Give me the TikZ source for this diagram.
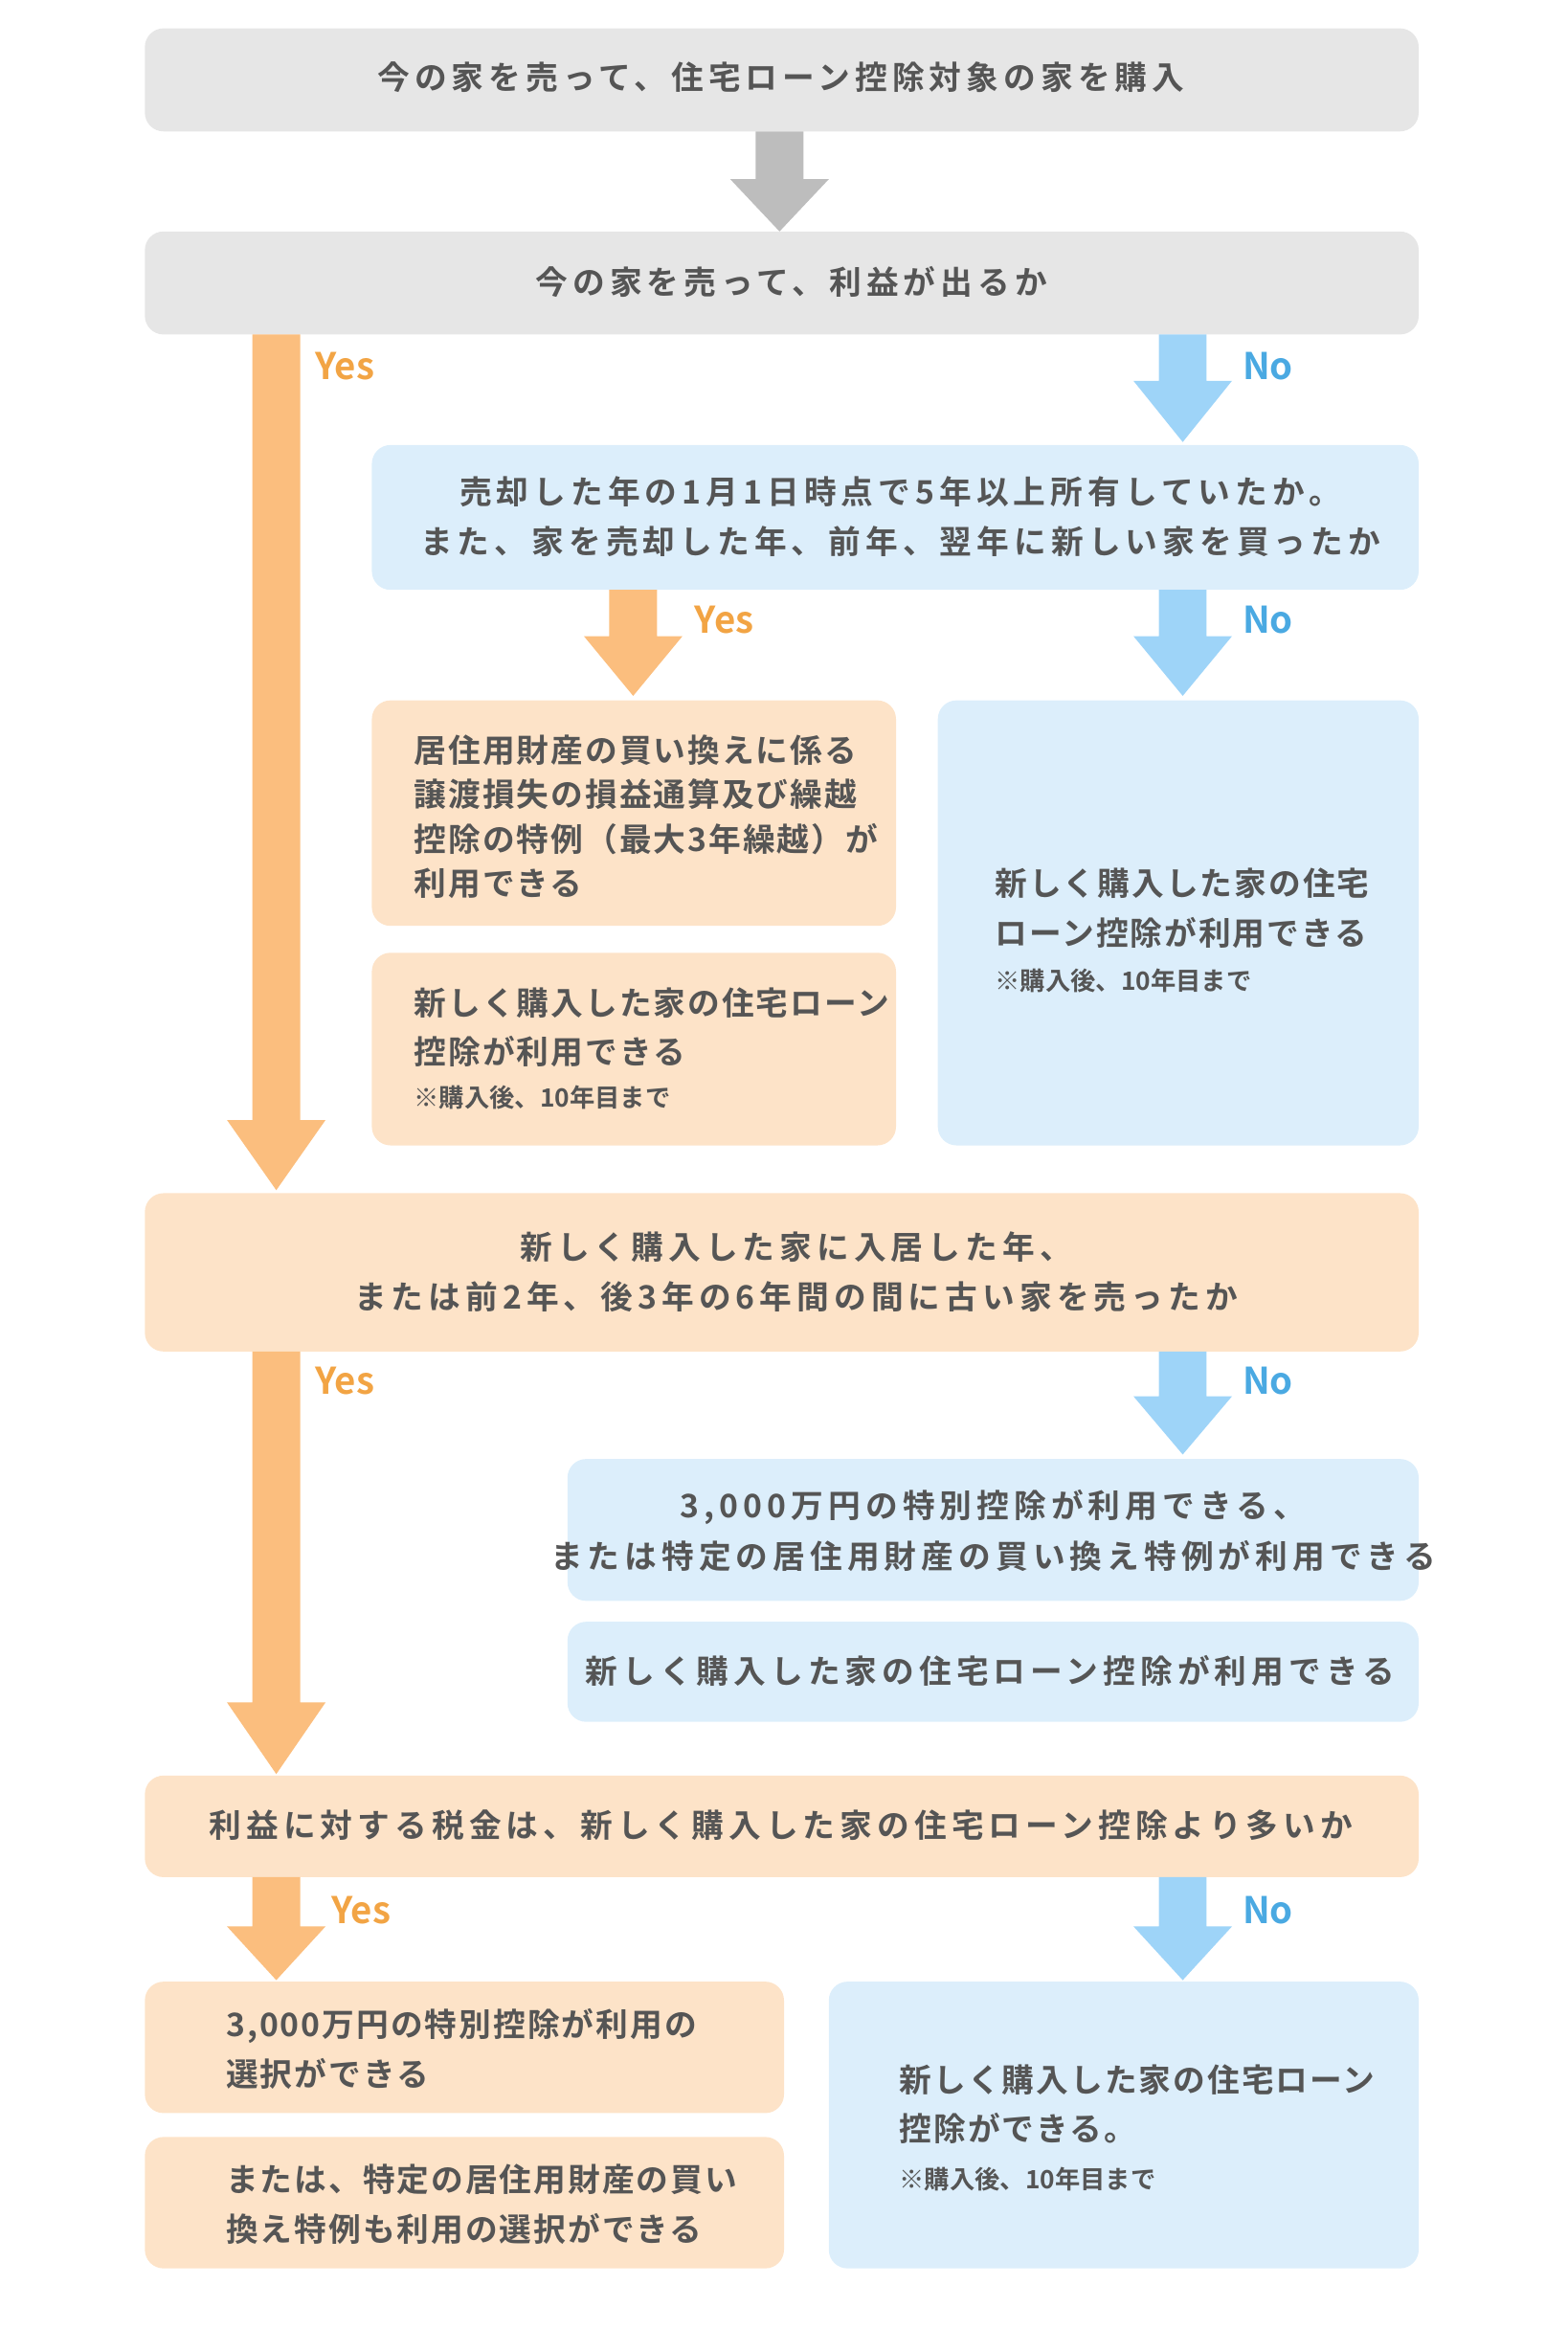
\documentclass[tikz,border=0pt]{standalone}
\usepackage{fontspec}
\setmainfont{Noto Sans CJK JP}[BoldFont={Noto Sans CJK JP Bold}]
\newfontfamily\jpwide{Noto Sans CJK JP}[BoldFont={Noto Sans CJK JP Bold},LetterSpace=15]
\newfontfamily\jpmid{Noto Sans CJK JP}[BoldFont={Noto Sans CJK JP Bold},LetterSpace=6]
\begin{document}
\begin{tikzpicture}[x=0.02cm,y=-0.02cm,
  box/.style={rounded corners=0.25cm},
  gbox/.style={box,fill=gbg},
  obox/.style={box,fill=obg},
  bbox/.style={box,fill=bbg},
  txt/.style={text=tx,font=\jpwide\fontsize{12.3}{19}\selectfont\bfseries,align=center,inner sep=0},
  ltxt/.style={text=tx,font=\jpmid\fontsize{12.3}{17}\selectfont\bfseries,align=left,anchor=west,inner sep=0},
  ltxtb/.style={ltxt,font=\jpmid\fontsize{12.3}{18.8}\selectfont\bfseries},
  note/.style={text=tx,font=\fontsize{9.6}{11}\selectfont\bfseries,anchor=west,inner sep=0},
  yes/.style={text=ytx,font=\fontsize{14}{16}\selectfont\bfseries,inner sep=0},
  no/.style={text=ntx,font=\fontsize{14}{16}\selectfont\bfseries,inner sep=0}]
\definecolor{gbg}{HTML}{E6E6E6}\definecolor{garr}{HTML}{BDBDBD}
\definecolor{obg}{HTML}{FDE3C8}\definecolor{oarr}{HTML}{FBBE7E}
\definecolor{bbg}{HTML}{DCEEFB}\definecolor{barr}{HTML}{9ED4F8}
\definecolor{tx}{HTML}{555555}\definecolor{ytx}{HTML}{F2A444}\definecolor{ntx}{HTML}{4AA9E2}
\newcommand\farrow[5]{\fill[#1] (#2-16,#3)--(#2+16,#3)--(#2+16,#5)--(#2+33,#5)--(#2,#4)--(#2-33,#5)--(#2-16,#5)--cycle;}
\useasboundingbox (0,0) rectangle (1050,1575);
\fill[gbox] (97,19) rectangle (950,88);
\node[txt] (t1) at (523,52) {今の家を売って、住宅ローン控除対象の家を購入};
\farrow{garr}{522}{88}{155}{120}
\fill[gbox] (97,155) rectangle (950,224);
\node[txt] (t2) at (530,189) {今の家を売って、利益が出るか};
\farrow{oarr}{185}{224}{797}{750}
\node[yes] at (231,245) {Yes};
\farrow{barr}{792}{224}{296}{255}
\node[no] at (849,245) {No};
\fill[bbox] (249,298) rectangle (950,395);
\node[txt] (t3) at (603,346) {売却した年の1月1日時点で5年以上所有していたか。\\また、家を売却した年、前年、翌年に新しい家を買ったか};
\farrow{oarr}{424}{395}{466}{426}
\node[yes] at (485,415) {Yes};
\farrow{barr}{792}{395}{466}{426}
\node[no] at (849,415) {No};
\fill[obox] (249,469) rectangle (600,620);
\node[ltxt] (t4) at (277,547) {居住用財産の買い換えに係る\\譲渡損失の損益通算及び繰越\\控除の特例（最大3年繰越）が\\利用できる};
\fill[obox] (249,638) rectangle (600,767);
\node[ltxtb] (t5) at (277,688) {新しく購入した家の住宅ローン\\控除が利用できる};
\node[note] at (277,735) {※購入後、10年目まで};
\fill[bbox] (628,469) rectangle (950,767);
\node[ltxtb] (t6) at (666,608) {新しく購入した家の住宅\\ローン控除が利用できる};
\node[note] at (666,657) {※購入後、10年目まで};
\fill[obox] (97,799) rectangle (950,905);
\node[txt] (t7) at (533,852) {新しく購入した家に入居した年、\\または前2年、後3年の6年間の間に古い家を売ったか};
\farrow{oarr}{185}{905}{1188}{1140}
\node[yes] at (231,925) {Yes};
\farrow{barr}{792}{905}{974}{935}
\node[no] at (849,925) {No};
\fill[bbox] (380,977) rectangle (950,1072);
\node[txt] (t8) at (665,1025) {3,000万円の特別控除が利用できる、\\または特定の居住用財産の買い換え特例が利用できる};
\fill[bbox] (380,1086) rectangle (950,1153);
\node[txt] (t9) at (663,1119) {新しく購入した家の住宅ローン控除が利用できる};
\fill[obox] (97,1189) rectangle (950,1257);
\node[txt] (t10) at (523,1222) {利益に対する税金は、新しく購入した家の住宅ローン控除より多いか};
\farrow{oarr}{185}{1257}{1326}{1290}
\node[yes] at (242,1279) {Yes};
\farrow{barr}{792}{1257}{1326}{1290}
\node[no] at (849,1279) {No};
\fill[obox] (97,1327) rectangle (525,1415);
\node[ltxtb] (t11) at (151,1372) {3,000万円の特別控除が利用の\\選択ができる};
\fill[obox] (97,1431) rectangle (525,1519);
\node[ltxtb] (t12) at (151,1476) {または、特定の居住用財産の買い\\換え特例も利用の選択ができる};
\fill[bbox] (555,1327) rectangle (950,1519);
\node[ltxtb] (t13) at (602,1409) {新しく購入した家の住宅ローン\\控除ができる。};
\node[note] at (602,1459) {※購入後、10年目まで};
\end{tikzpicture}
\end{document}
